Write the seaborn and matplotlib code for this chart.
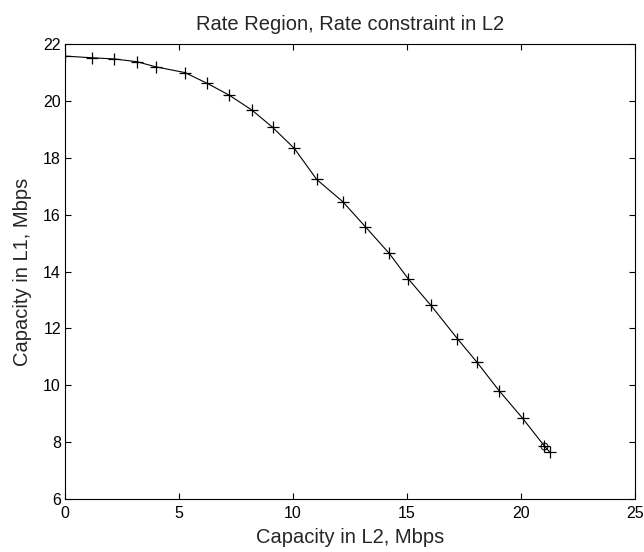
import matplotlib
matplotlib.use("Agg")
import matplotlib.pyplot as plt
import seaborn as sns
import pandas as pd

capacity_l2 = [0.0, 1.20, 2.16, 3.17, 3.99, 5.26, 6.24, 7.19, 8.20, 9.11, 10.06,
               11.04, 12.18, 13.17, 14.22, 15.06, 16.05, 17.21, 18.07, 19.04,
               20.07, 21.01, 21.27]
capacity_l1 = [21.58, 21.52, 21.48, 21.38, 21.20, 21.00, 20.62, 20.21, 19.68,
               19.07, 18.33, 17.24, 16.46, 15.58, 14.64, 13.74, 12.81, 11.64,
               10.81, 9.81, 8.84, 7.88, 7.64]
circle_x = [21.01]
circle_y = [7.88]
x_ticks = [0, 5, 10, 15, 20, 25]
y_ticks = [6, 8, 10, 12, 14, 16, 18, 20, 22]

sns.set_theme(style="white")
plt.rcParams['font.family'] = ['Liberation Sans', 'DejaVu Sans']

df = pd.DataFrame({"x": capacity_l2, "y": capacity_l1})

fig = plt.figure(figsize=(6.44, 5.52), dpi=100)
ax = fig.add_axes([0.101, 0.096, 0.885, 0.824])

sns.lineplot(data=df, x="x", y="y", sort=False, ax=ax, color="black",
             linewidth=0.8, marker="+", markersize=9, markeredgewidth=0.9,
             markeredgecolor="black")
ax.plot(circle_x, circle_y, linestyle="none", marker="o", markersize=5,
        markerfacecolor="none", markeredgecolor="black", markeredgewidth=0.7)

ax.set_xlim(0, 25)
ax.set_ylim(6, 22)
ax.set_xticks(x_ticks)
ax.set_yticks(y_ticks)
ax.tick_params(direction="in", length=4, width=0.8, top=True, right=True,
               bottom=True, left=True, labelsize=11.5, colors="black")
ax.tick_params(axis="x", pad=5)
ax.tick_params(axis="y", pad=3)
for s in ax.spines.values():
    s.set_visible(True)
    s.set_color("black")
    s.set_linewidth(0.8)

ax.set_xlabel("Capacity in L2, Mbps", fontsize=14.5, labelpad=5)
ax.set_ylabel("Capacity in L1, Mbps", fontsize=14.5, labelpad=8)
ax.set_title("Rate Region, Rate constraint in L2", fontsize=14.5, pad=10)

fig.savefig("out.png", dpi=100)
